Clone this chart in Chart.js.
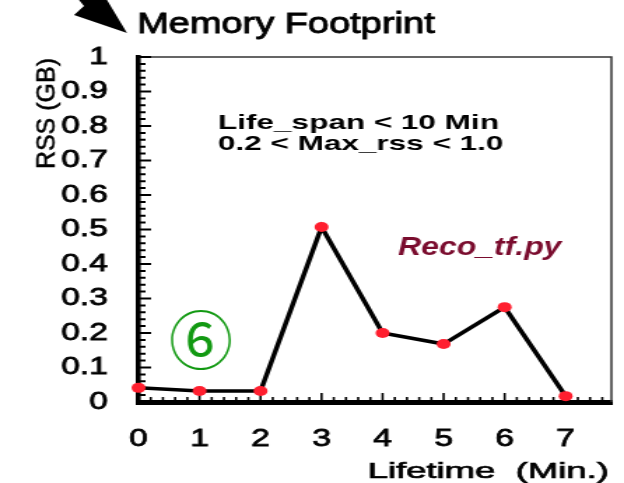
<!DOCTYPE html>
<html>
<head>
<meta charset="utf-8">
<script src="https://cdn.jsdelivr.net/npm/chart.js@4"></script>
<style>
  html, body { margin: 0; padding: 0; background: #fff; }
  #chart { display: block; }
</style>
</head>
<body>
<canvas id="chart" width="446" height="483" style="width:624px;height:483px"></canvas>
<script>
const lifetimes = [0, 1, 2, 3, 4, 5, 6, 7];
const rssValues = [0.041, 0.032, 0.032, 0.507, 0.2, 0.168, 0.275, 0.017];

const yMin = 0, yMax = 1, yStep = 0.1, yMinorStep = 0.02;
const xMin = 0, xMax = 7.75, xStep = 1, xMinorStep = 0.2;

const titleText = "Memory Footprint";
const yTitle = "RSS (GB)";
const xTitle = "Lifetime  (Min.)";
const cutLines = ["Life_span < 10 Min", "0.2 < Max_rss < 1.0"];
const jobName = "Reco_tf.py";
const panelMark = "⑥";

// the reference is squeezed wide, so draw narrow and let css stretch it
const STRETCH = 624 / 446;
const FONT = "'Liberation Sans', Arial, sans-serif";

const frameAndTicks = {
  id: "frameAndTicks",
  beforeDatasetsDraw(chart) {
    const { ctx, chartArea: a, scales: { x, y } } = chart;
    ctx.save();
    ctx.strokeStyle = "#333";
    ctx.lineWidth = 1.5;
    ctx.beginPath();
    ctx.moveTo(a.left, a.top);
    ctx.lineTo(a.right, a.top);
    ctx.lineTo(a.right, a.bottom);
    ctx.stroke();

    // ticks point into the plot
    ctx.strokeStyle = "#000";
    ctx.lineWidth = 2;
    ctx.beginPath();
    for (let i = 0; i * yMinorStep <= yMax + 1e-9; i++) {
      const py = y.getPixelForValue(i * yMinorStep);
      const len = i % 5 === 0 ? 9 : 5;
      ctx.moveTo(a.left, py);
      ctx.lineTo(a.left + len, py);
    }
    ctx.stroke();
    ctx.lineWidth = 1.6;
    ctx.beginPath();
    for (let i = 0; i * xMinorStep <= xMax + 1e-9; i++) {
      const px = x.getPixelForValue(i * xMinorStep);
      const len = i % 5 === 0 ? 9 : 5;
      ctx.moveTo(px, a.bottom);
      ctx.lineTo(px, a.bottom - len);
    }
    ctx.stroke();
    ctx.restore();
  }
};

const labels = {
  id: "labels",
  afterDraw(chart) {
    const ctx = chart.ctx;
    ctx.save();
    ctx.scale(1 / STRETCH, 1); // page pixels from here on
    const put = (text, x, y, font, color, sx, align = "left", rot = 0, heavy = 0) => {
      ctx.save();
      ctx.translate(x, y);
      if (rot) ctx.rotate(rot);
      ctx.scale(sx, 1);
      ctx.font = font;
      ctx.fillStyle = color;
      ctx.textAlign = align;
      ctx.textBaseline = "alphabetic";
      ctx.fillText(text, 0, 0);
      if (heavy) {
        ctx.strokeStyle = color;
        ctx.lineWidth = heavy;
        ctx.strokeText(text, 0, 0);
      }
      ctx.restore();
    };
    put(titleText, 137, 33, `29px ${FONT}`, "#000", 1.31, "left", 0, 0.9);
    put(xTitle, 609, 478, `22px ${FONT}`, "#000", 1.66, "right", 0, 0.7);
    put(yTitle, 55, 58, `25px ${FONT}`, "#000", 1, "right", -Math.PI / 2, 0.6);
    put(cutLines[0], 218, 129, `bold 21px ${FONT}`, "#000", 1.5);
    put(cutLines[1], 218, 150, `bold 21px ${FONT}`, "#000", 1.5);
    put(jobName, 398, 255, `italic bold 26px ${FONT}`, "#7a0c2e", 1.23);
    ctx.save();
    ctx.font = "64px 'Noto Sans CJK JP'";
    ctx.fillStyle = "#129912";
    ctx.textAlign = "center";
    ctx.textBaseline = "middle";
    ctx.fillText(panelMark, 201, 340);
    ctx.restore();

    // pointer arrow cut by the top edge
    ctx.fillStyle = "#000";
    ctx.beginPath();
    ctx.moveTo(127, 33);
    ctx.lineTo(74, 15);
    ctx.lineTo(84, 6);
    ctx.lineTo(79, 0);
    ctx.lineTo(107, 0);
    ctx.closePath();
    ctx.fill();
    ctx.restore();
  }
};

new Chart(document.getElementById("chart"), {
  type: "line",
  data: {
    datasets: [
      {
        data: lifetimes.map((t, i) => ({ x: t, y: rssValues[i] })),
        borderColor: "#000",
        borderWidth: 3.5,
        pointBackgroundColor: "#ff1f2f",
        pointBorderWidth: 0,
        pointRadius: 5,
        tension: 0,
        clip: false
      }
    ]
  },
  options: {
    responsive: false,
    animation: false,
    devicePixelRatio: 1,
    layout: { padding: { left: 0, right: 9, top: 57, bottom: 0 } },
    plugins: {
      legend: { display: false },
      tooltip: { enabled: false }
    },
    scales: {
      x: {
        type: "linear",
        min: xMin,
        max: xMax,
        afterFit: (s) => { s.height = 81; },
        grid: { display: false },
        border: { color: "#000", width: 5 },
        ticks: {
          stepSize: xStep,
          includeBounds: false,
          padding: 15,
          color: "#000",
          textStrokeColor: "#000",
          textStrokeWidth: 0.8,
          font: { family: FONT, size: 24 }
        }
      },
      y: {
        min: yMin,
        max: yMax,
        afterFit: (s) => { s.width = 99; },
        grid: { display: false },
        border: { color: "#000", width: 3.6 },
        ticks: {
          stepSize: yStep,
          padding: 14,
          color: "#000",
          textStrokeColor: "#000",
          textStrokeWidth: 0.8,
          font: { family: FONT, size: 24 },
          callback: (v) => String(Number(v.toFixed(1)))
        }
      }
    }
  },
  plugins: [frameAndTicks, labels]
});
</script>
</body>
</html>
